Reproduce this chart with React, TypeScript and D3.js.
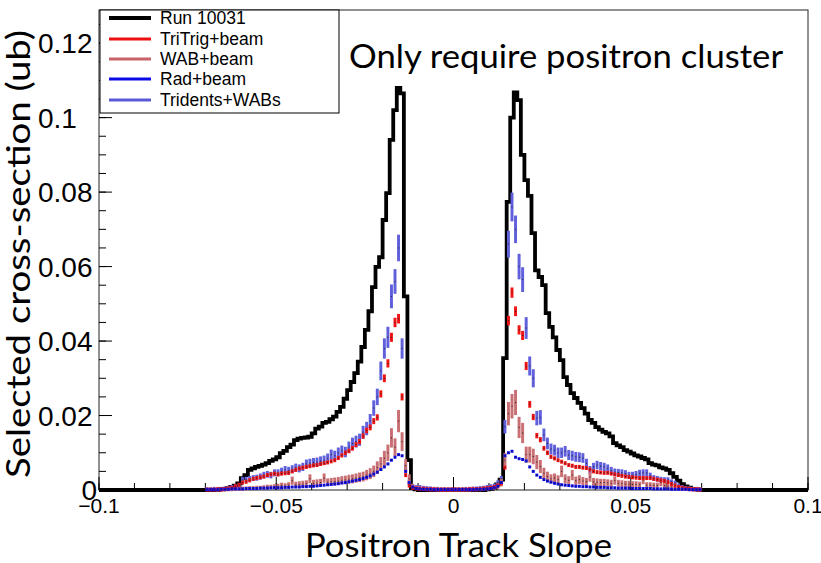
import React from "react";
import * as d3 from "d3";

// ---------------- DATA ----------------
const binStart = -0.07;
const binWidth = 0.001;

const runData = [
  0,0,0,0,0.0002,0.0003,0.0005,0.0008,0.0012,0.0018,
  0.0032,0.0040,0.0054,0.0058,0.0062,0.0065,0.0068,0.0072,0.0078,0.0082,
  0.0088,0.0099,0.0105,0.0115,0.0122,0.0134,0.0138,0.0140,0.0141,0.0143,
  0.0152,0.0165,0.0170,0.0180,0.0183,0.0190,0.0197,0.0210,0.0223,0.0245,
  0.0268,0.0290,0.0314,0.0345,0.0384,0.0430,0.0480,0.0545,0.0599,0.0625,
  0.0725,0.0797,0.0940,0.1020,0.1080,0.1065,0.0520,0.0080,0.0005,0.0002,
  0,0,0,0,0,0,0,0,0,0,
  0,0,0,0,0,0,0,0,0,0.0002,
  0.0003,0.0006,0.0015,0.0028,0.0354,0.0774,0.1000,0.1068,0.1047,0.0900,
  0.0832,0.0790,0.0690,0.0590,0.0572,0.0550,0.0475,0.0438,0.0410,0.0376,
  0.0349,0.0303,0.0282,0.0260,0.0247,0.0234,0.0220,0.0205,0.0188,0.0180,
  0.0169,0.0162,0.0156,0.0152,0.0144,0.0126,0.0120,0.0115,0.0107,0.0103,
  0.0098,0.0093,0.0090,0.0086,0.0082,0.0072,0.0068,0.0066,0.0061,0.0058,
  0.0054,0.0045,0.0035,0.0025,0.0016,0.0010,0.0006,0.0003,0.0002,0,
];

const tridentsWabs = [
  0.0002,0.0002,0.0003,0.0003,0.0003,0.0004,0.0006,0.0008,0.0010,0.0013,
  0.0027,0.0028,0.0030,0.0032,0.0033,0.0036,0.0040,0.0042,0.0040,0.0046,
  0.0046,0.0050,0.0054,0.0052,0.0056,0.0060,0.0058,0.0062,0.0070,0.0072,
  0.0074,0.0075,0.0078,0.0080,0.0085,0.0095,0.0092,0.0100,0.0105,0.0102,
  0.0115,0.0125,0.0130,0.0135,0.0155,0.0165,0.0185,0.0220,0.0250,0.0320,
  0.0380,0.0410,0.0520,0.0560,0.0650,0.0380,0.0060,0.0020,0.0010,0.0008,
  0.0008,0.0006,0.0005,0.0004,0.0003,0.0003,0.0002,0.0002,0.0002,0.0002,
  0.0002,0.0002,0.0002,0.0003,0.0003,0.0004,0.0004,0.0005,0.0006,0.0008,
  0.0010,0.0012,0.0020,0.0030,0.0170,0.0660,0.0760,0.0700,0.0600,0.0565,
  0.0435,0.0333,0.0300,0.0193,0.0195,0.0148,0.0125,0.0110,0.0107,0.0100,
  0.0100,0.0104,0.0094,0.0092,0.0089,0.0088,0.0086,0.0072,0.0054,0.0062,
  0.0067,0.0064,0.0062,0.0058,0.0052,0.0048,0.0047,0.0046,0.0044,0.0040,
  0.0040,0.0042,0.0045,0.0046,0.0046,0.0038,0.0032,0.0030,0.0028,0.0027,
  0.0027,0.0022,0.0019,0.0012,0.0008,0.0005,0.0004,0.0003,0.0003,0.0002,
];

const triTrigBeam = [
  0.0001,0.0001,0.0001,0.0002,0.0002,0.0003,0.0004,0.0006,0.0010,0.0014,
  0.0020,0.0022,0.0026,0.0030,0.0032,0.0034,0.0036,0.0040,0.0042,0.0044,
  0.0042,0.0044,0.0045,0.0046,0.0050,0.0054,0.0058,0.0060,0.0062,0.0064,
  0.0066,0.0067,0.0070,0.0072,0.0074,0.0077,0.0080,0.0086,0.0093,0.0100,
  0.0105,0.0112,0.0122,0.0130,0.0145,0.0160,0.0168,0.0185,0.0195,0.0258,
  0.0300,0.0340,0.0410,0.0450,0.0460,0.0250,0.0040,0.0012,0.0006,0.0004,
  0.0003,0.0003,0.0002,0.0002,0.0002,0.0001,0.0001,0.0001,0.0001,0.0001,
  0.0001,0.0001,0.0001,0.0001,0.0002,0.0002,0.0002,0.0003,0.0004,0.0005,
  0.0006,0.0008,0.0012,0.0018,0.0060,0.0455,0.0530,0.0480,0.0430,0.0415,
  0.0333,0.0230,0.0196,0.0146,0.0135,0.0112,0.0100,0.0089,0.0085,0.0080,
  0.0076,0.0072,0.0067,0.0065,0.0062,0.0062,0.0060,0.0059,0.0055,0.0050,
  0.0048,0.0047,0.0046,0.0046,0.0044,0.0042,0.0040,0.0038,0.0036,0.0035,
  0.0034,0.0033,0.0032,0.0032,0.0032,0.0032,0.0030,0.0028,0.0026,0.0024,
  0.0021,0.0016,0.0012,0.0008,0.0006,0.0004,0.0003,0.0002,0.0002,0.0001,
];

const wabBeam = [
  0,0,0,0.0001,0.0001,0.0001,0.0002,0.0002,0.0003,0.0003,
  0.0004,0.0004,0.0005,0.0005,0.0006,0.0006,0.0007,0.0008,0.0008,0.0009,
  0.0010,0.0012,0.0011,0.0013,0.0025,0.0014,0.0015,0.0016,0.0017,0.0030,
  0.0018,0.0019,0.0020,0.0032,0.0021,0.0022,0.0023,0.0024,0.0026,0.0027,
  0.0029,0.0030,0.0032,0.0034,0.0036,0.0040,0.0044,0.0050,0.0060,0.0070,
  0.0085,0.0100,0.0140,0.0115,0.0185,0.0130,0.0065,0.0030,0.0010,0.0006,
  0.0005,0.0004,0.0003,0.0002,0.0002,0.0001,0.0001,0.0001,0.0001,0.0001,
  0.0001,0.0001,0.0001,0.0001,0.0001,0.0002,0.0002,0.0002,0.0003,0.0004,
  0.0005,0.0006,0.0010,0.0020,0.0080,0.0205,0.0225,0.0235,0.0168,0.0153,
  0.0095,0.0095,0.0090,0.0075,0.0063,0.0045,0.0036,0.0030,0.0032,0.0028,
  0.0050,0.0030,0.0026,0.0040,0.0025,0.0028,0.0024,0.0022,0.0035,0.0022,
  0.0021,0.0020,0.0020,0.0019,0.0018,0.0025,0.0018,0.0017,0.0016,0.0016,
  0.0015,0.0015,0.0014,0.0027,0.0013,0.0013,0.0012,0.0012,0.0020,0.0011,
  0.0010,0.0008,0.0006,0.0005,0.0004,0.0003,0.0002,0.0002,0.0001,0.0001,
];

const radBeam = [
  0.0001,0.0001,0.0001,0.0001,0.0002,0.0002,0.0002,0.0003,0.0003,0.0003,
  0.0003,0.0004,0.0004,0.0004,0.0004,0.0005,0.0005,0.0005,0.0006,0.0006,
  0.0006,0.0006,0.0007,0.0007,0.0008,0.0008,0.0008,0.0009,0.0009,0.0010,
  0.0010,0.0011,0.0012,0.0013,0.0014,0.0015,0.0016,0.0017,0.0019,0.0020,
  0.0022,0.0024,0.0026,0.0028,0.0031,0.0034,0.0038,0.0043,0.0048,0.0055,
  0.0062,0.0070,0.0080,0.0088,0.0095,0.0092,0.0050,0.0020,0.0008,0.0004,
  0.0003,0.0002,0.0002,0.0002,0.0001,0.0001,0.0001,0.0001,0.0001,0.0001,
  0.0001,0.0001,0.0001,0.0001,0.0001,0.0001,0.0002,0.0002,0.0002,0.0003,
  0.0004,0.0006,0.0010,0.0020,0.0092,0.0100,0.0104,0.0088,0.0084,0.0082,
  0.0078,0.0062,0.0050,0.0040,0.0034,0.0028,0.0024,0.0021,0.0018,0.0016,
  0.0014,0.0013,0.0012,0.0011,0.0010,0.0010,0.0009,0.0009,0.0008,0.0008,
  0.0007,0.0007,0.0007,0.0006,0.0006,0.0006,0.0005,0.0005,0.0005,0.0005,
  0.0004,0.0004,0.0004,0.0004,0.0004,0.0004,0.0003,0.0003,0.0003,0.0003,
  0.0003,0.0002,0.0002,0.0002,0.0002,0.0002,0.0001,0.0001,0.0001,0.0001,
];

const xMajorTicks = [-0.1, -0.05, 0, 0.05, 0.1];
const xTickLabels = ["\u22120.1", "\u22120.05", "0", "0.05", "0.1"];
const yMajorTicks = [0, 0.02, 0.04, 0.06, 0.08, 0.1, 0.12];
const yTickLabels = ["0", "0.02", "0.04", "0.06", "0.08", "0.1", "0.12"];

const legendNames = ["Run 10031", "TriTrig+beam", "WAB+beam", "Rad+beam", "Tridents+WABs"];
const legendColors = ["#000000", "#ee1010", "#c86468", "#0a0ae6", "#5a5ad8"];

// ---------------- LAYOUT ----------------
const W = 821, H = 563;
const plot = { left: 99, right: 808, top: 10, bottom: 490 };

export default function App() {
  const x = d3.scaleLinear().domain([-0.1, 0.1]).range([plot.left, plot.right]);
  const y = d3.scaleLinear().domain([0, 0.1289]).range([plot.bottom, plot.top]);

  const pts: [number, number][] = [[-0.1, 0], [binStart, 0]];
  runData.forEach((v, i) => {
    const lo = binStart + i * binWidth;
    pts.push([lo, v], [lo + binWidth, v]);
  });
  pts.push([binStart + runData.length * binWidth, 0], [0.1, 0]);
  const stepLine = d3.line<[number, number]>().x(d => x(d[0])).y(d => y(d[1]));

  const mcSeries = [
    { key: "tri", values: tridentsWabs, color: "#6060dc", k: 0.014, minH: 4 },
    { key: "wab", values: wabBeam, color: "#c87074", k: 0.022, minH: 4 },
    { key: "tt", values: triTrigBeam, color: "#f01414", k: 0.006, minH: 4 },
    { key: "rad", values: radBeam, color: "#0a0aee", k: 0.003, minH: 3 },
  ];

  const bw = x(binWidth) - x(0);

  const xMinor = d3.range(-10, 11).map(i => i * 0.01);
  const yMinor = d3.range(0, 26).map(i => i * 0.005);

  const legendY = [18, 39, 59, 79, 100];

  return (
    <svg width={W} height={H} style={{ position: "absolute", left: 0, top: 0, background: "#fff" }}>
      <rect x={0} y={0} width={W} height={H} fill="#fff" />
      <rect x={plot.left} y={plot.top} width={plot.right - plot.left} height={plot.bottom - plot.top}
        fill="none" stroke="#222" strokeWidth={1} />

      {xMinor.map((t, i) => (
        <line key={"xm" + i} x1={x(t)} x2={x(t)} y1={plot.bottom} y2={plot.bottom - 7} stroke="#000" strokeWidth={1} />
      ))}
      {xMajorTicks.map((t, i) => (
        <line key={"xM" + i} x1={x(t)} x2={x(t)} y1={plot.bottom} y2={plot.bottom - 13} stroke="#000" strokeWidth={1} />
      ))}
      {yMinor.map((t, i) => (
        <line key={"ym" + i} x1={plot.left} x2={plot.left + 7} y1={y(t)} y2={y(t)} stroke="#000" strokeWidth={1} />
      ))}
      {yMajorTicks.map((t, i) => (
        <line key={"yM" + i} x1={plot.left} x2={plot.left + 13} y1={y(t)} y2={y(t)} stroke="#000" strokeWidth={1} />
      ))}

      <path d={stepLine(pts) || ""} fill="none" stroke="#000" strokeWidth={3.8} strokeLinejoin="miter" />

      {mcSeries.map(s => (
        <g key={s.key}>
          {s.values.map((v, i) => {
            if (v <= 0) return null;
            const lo = binStart + i * binWidth;
            const err = s.k * Math.sqrt(v);
            const y1 = y(v + err);
            const y2 = y(Math.max(0, v - err));
            let hgt = y2 - y1;
            let top = y1;
            if (hgt < s.minH) { top = y(v) - s.minH / 2; hgt = s.minH; }
            return (
              <g key={i}>
                <rect x={x(lo) + 0.3} y={top} width={bw - 0.6} height={hgt} fill={s.color} />
                <rect x={x(lo + binWidth / 2) - 0.5} y={y(v) - 0.5} width={1} height={1} fill="#222" />
              </g>
            );
          })}
        </g>
      ))}

      {xMajorTicks.map((t, i) => (
        <text key={"xl" + i} x={x(t)} y={513} textAnchor="middle" fontFamily="Liberation Sans, Arial, sans-serif"
          fontSize={21} fill="#000">{xTickLabels[i]}</text>
      ))}
      {yMajorTicks.map((t, i) => (
        t === 0 ? (
          <text key={"yl" + i} x={97} y={y(t) + 10} textAnchor="end" fontFamily="Liberation Sans, Arial, sans-serif"
            fontSize={28} fill="#000">{yTickLabels[i]}</text>
        ) : (
          <text key={"yl" + i} x={38} y={y(t) + 10} textAnchor="start" fontFamily="Liberation Sans, Arial, sans-serif"
            fontSize={28} fill="#000">{yTickLabels[i]}</text>
        )
      ))}

      <rect x={100} y={10} width={239} height={103} fill="#fff" stroke="#000" strokeWidth={1} />
      {legendNames.map((n, i) => (
        <g key={n}>
          <line x1={109} x2={151} y1={legendY[i]} y2={legendY[i]} stroke={legendColors[i]} strokeWidth={i === 0 ? 4 : 3} />
          <text x={160} y={legendY[i]} dominantBaseline="central" fontFamily="Liberation Sans, Arial, sans-serif"
            fontSize={17.5} fill="#000">{n}</text>
        </g>
      ))}

      <text x={349} y={68} fontFamily="Lato, 'Open Sans', sans-serif" fontSize={33} fill="#000"
        textLength={434} lengthAdjust="spacingAndGlyphs">Only require positron cluster</text>
      <text x={305} y={557} fontFamily="Lato, 'Open Sans', sans-serif" fontSize={33} fill="#000"
        textLength={307} lengthAdjust="spacingAndGlyphs">Positron Track Slope</text>
      <text transform="translate(30,254) rotate(-90)" x={0} y={0} textAnchor="middle"
        fontFamily="Lato, 'Open Sans', sans-serif" fontSize={32} fill="#000"
        textLength={448} lengthAdjust="spacingAndGlyphs">Selected cross-section (ub)</text>
    </svg>
  );
}
